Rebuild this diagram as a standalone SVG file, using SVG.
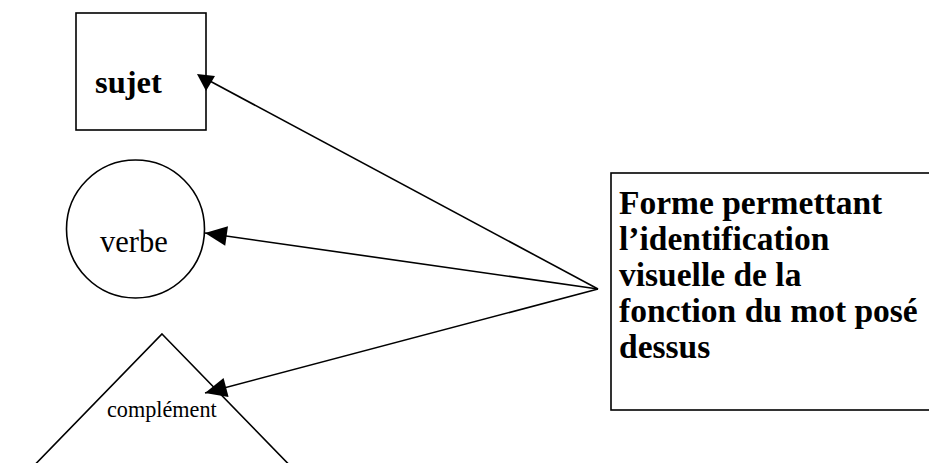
<svg xmlns="http://www.w3.org/2000/svg" width="929" height="463" viewBox="0 0 929 463">
<style>
.shape{fill:#fff;stroke:#000;stroke-width:1.6}
.conn{fill:none;stroke:#000;stroke-width:1.6}
.head{fill:#000;stroke:none}
text{font-family:"Liberation Serif","Times New Roman",serif;fill:#000}
.b{font-weight:bold}
</style>
<defs>
<marker id="arrow" markerUnits="userSpaceOnUse" markerWidth="24" markerHeight="24" viewBox="-21 -10 22 20" refX="0" refY="0" orient="auto">
<path d="M0,0 L-20,-9 L-20,9 Z" fill="#000"/>
</marker>
</defs>
<rect width="929" height="463" fill="#fff"/>
<g id="node-sujet">
<rect class="shape" x="76" y="13" width="130" height="117"/>
<text class="b" x="95" y="93" font-size="32.5">sujet</text>
</g>
<g id="node-verbe">
<circle class="shape" cx="135.5" cy="229" r="69"/>
<text x="100" y="252" font-size="30.5">verbe</text>
</g>
<g id="node-complement">
<polygon class="shape" points="162,334 304,480 20,480"/>
<text x="107" y="417" font-size="22.2">complément</text>
</g>
<g id="node-forme">
<rect class="shape" x="611" y="173" width="340" height="237"/>
<text class="b" font-size="33.5">
<tspan x="619" y="214">Forme permettant</tspan>
<tspan x="619" y="250">l’identification</tspan>
<tspan x="619" y="286">visuelle de la</tspan>
<tspan x="619" y="322">fonction du mot posé</tspan>
<tspan x="619" y="358">dessus</tspan>
</text>
</g>
<g id="connectors">
<line class="conn" x1="598" y1="289" x2="208" y2="80"/>
<polygon class="head" points="197,74 215,76 206,91"/>
<line class="conn" x1="598" y1="289" x2="205" y2="233" marker-end="url(#arrow)"/>
<line class="conn" x1="598" y1="289" x2="205" y2="393" marker-end="url(#arrow)"/>
</g>
</svg>
